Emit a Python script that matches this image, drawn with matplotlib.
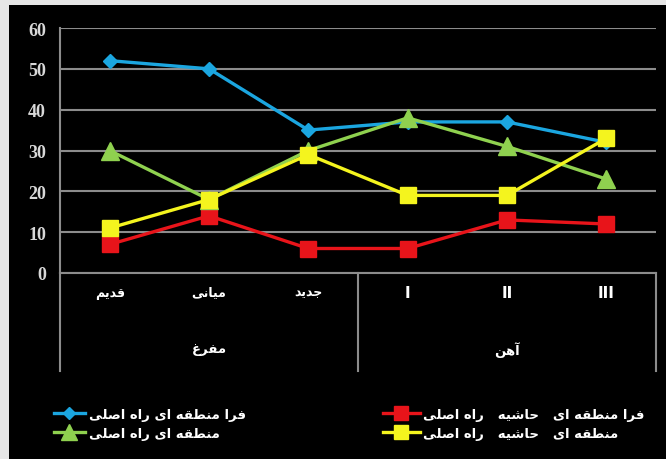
import matplotlib
matplotlib.use("Agg")
import matplotlib.pyplot as plt
import matplotlib.transforms as mtransforms
from matplotlib.patches import Rectangle

# data
categories = ["قدیم", "میانی", "جدید", "I", "II", "III"]
groups = ["مفرغ", "آهن"]
group_size = [3, 3]

series_names = [
    "فرا منطقه ای راه اصلی",
    "فرا منطقه ای   حاشیه   راه اصلی",
    "منطقه ای راه اصلی",
    "منطقه ای   حاشیه   راه اصلی",
]
blue_vals = [52, 50, 35, 37, 37, 32]
red_vals = [7, 14, 6, 6, 13, 12]
green_vals = [30, 18, 30, 38, 31, 23]
yellow_vals = [11, 18, 29, 19, 19, 33]

yticks = [0, 10, 20, 30, 40, 50, 60]

# matplotlib does no arabic shaping, so pick the presentation forms by hand
# letter: (isolated, final, initial, medial); initial None -> does not join forward
FORMS = {
    "ا": ("\uFE8D", "\uFE8E", None, None),
    "آ": ("\uFE81", "\uFE82", None, None),
    "د": ("\uFEA9", "\uFEAA", None, None),
    "ر": ("\uFEAD", "\uFEAE", None, None),
    "ج": ("\uFE9D", "\uFE9E", "\uFE9F", "\uFEA0"),
    "ح": ("\uFEA1", "\uFEA2", "\uFEA3", "\uFEA4"),
    "ش": ("\uFEB5", "\uFEB6", "\uFEB7", "\uFEB8"),
    "ص": ("\uFEB9", "\uFEBA", "\uFEBB", "\uFEBC"),
    "ط": ("\uFEC1", "\uFEC2", "\uFEC3", "\uFEC4"),
    "غ": ("\uFECD", "\uFECE", "\uFECF", "\uFED0"),
    "ف": ("\uFED1", "\uFED2", "\uFED3", "\uFED4"),
    "ق": ("\uFED5", "\uFED6", "\uFED7", "\uFED8"),
    "ل": ("\uFEDD", "\uFEDE", "\uFEDF", "\uFEE0"),
    "م": ("\uFEE1", "\uFEE2", "\uFEE3", "\uFEE4"),
    "ن": ("\uFEE5", "\uFEE6", "\uFEE7", "\uFEE8"),
    "ه": ("\uFEE9", "\uFEEA", "\uFEEB", "\uFEEC"),
    "ی": ("\uFBFC", "\uFBFD", "\uFBFE", "\uFBFF"),
}


def shape(s):
    if not any(c in FORMS for c in s):
        return s
    out = []
    for i, c in enumerate(s):
        if c not in FORMS:
            out.append(c)
            continue
        prev = s[i - 1] if i > 0 else None
        nxt = s[i + 1] if i + 1 < len(s) else None
        join_prev = prev in FORMS and FORMS[prev][2] is not None
        join_next = FORMS[c][2] is not None and nxt in FORMS
        iso, fin, ini, med = FORMS[c]
        if join_prev and join_next:
            out.append(med)
        elif join_prev:
            out.append(fin)
        elif join_next:
            out.append(ini)
        else:
            out.append(iso)
    return "".join(reversed(out))


plt.rcParams["font.family"] = ["Liberation Serif", "DejaVu Sans"]

fig = plt.figure(figsize=(6.66, 4.6), dpi=100, facecolor="black")
ax = fig.add_axes([60 / 666, 1 - 274 / 460, 596 / 666, 245 / 460])
ax.set_facecolor("black")

# light frame on the left and top of the picture
fig.patches.append(Rectangle((0, 0), 9 / 666, 1, transform=fig.transFigure,
                             facecolor="#e6e6e6", edgecolor="none", zorder=-5))
fig.patches.append(Rectangle((0, 1 - 6 / 460), 1, 6 / 460, transform=fig.transFigure,
                             facecolor="#e6e6e6", edgecolor="none", zorder=-5))

x = list(range(len(categories)))
grid_c = "#8c8c8c"

l_blue, = ax.plot(x, blue_vals, color="#1ba6e0", lw=2.4, marker="D", ms=7.5,
                  zorder=3)
l_red, = ax.plot(x, red_vals, color="#e8141a", lw=2.4, marker="s", ms=11.5,
                 zorder=3)
l_green, = ax.plot(x, green_vals, color="#8fd14f", lw=2.4, marker="^", ms=13,
                   zorder=3)
l_yellow, = ax.plot(x, yellow_vals, color="#f4f41e", lw=2.4, marker="s", ms=11.5,
                    zorder=3)

ax.set_xlim(-0.5, len(categories) - 0.5)
ax.set_ylim(0, 60)
ax.set_yticks(yticks)
ax.set_yticklabels([str(v) for v in yticks], fontsize=13, fontweight="bold",
                   color="#d8d8d8")
ax.tick_params(axis="y", length=0, pad=10)
ax.grid(axis="y", color=grid_c, lw=1.5)
ax.set_axisbelow(True)

ax.set_xticks(x)
ax.set_xticklabels([shape(c) for c in categories], color="white")
for i, t in enumerate(ax.get_xticklabels()):
    if i < group_size[0]:
        t.set_fontfamily("DejaVu Sans")
        t.set_fontsize(9)
        t.set_fontweight("bold")
    else:
        t.set_fontfamily("DejaVu Sans")
        t.set_fontsize(11)
        t.set_fontweight("bold")
ax.tick_params(axis="x", length=0, pad=9)

for side in ["right", "top"]:
    ax.spines[side].set_visible(False)
for side in ["left", "bottom"]:
    ax.spines[side].set_color(grid_c)
    ax.spines[side].set_linewidth(1.5)

# category group labels and separators under the axis
trans = mtransforms.blended_transform_factory(ax.transData, ax.transAxes)
drop = -(372 - 274) / 245
start = 0
edges = [-0.5]
for g, n in zip(groups, group_size):
    mid = start + (n - 1) / 2
    ax.text(mid, -(350 - 274) / 245, shape(g), transform=trans, ha="center",
            va="center", color="white", fontsize=9.5, fontweight="bold",
            family=["DejaVu Sans"])
    start += n
    edges.append(start - 0.5)
for e in edges:
    ax.plot([e, e], [0, drop], transform=trans, color=grid_c, lw=1.5,
            clip_on=False)

# legend: excel puts two entries per column
leg_prop = {"family": "DejaVu Sans", "weight": "bold", "size": 9.5}
leg1 = fig.legend([l_blue, l_green], [shape(series_names[0]), shape(series_names[2])],
                  loc="upper left", bbox_to_anchor=(47 / 666, 1 - 402 / 460),
                  frameon=False, labelcolor="white", markerscale=0.85,
                  handlelength=2.4, handletextpad=0.25, labelspacing=0.45,
                  borderpad=0, prop=leg_prop)
leg2 = fig.legend([l_red, l_yellow], [shape(series_names[1]), shape(series_names[3])],
                  loc="upper left", bbox_to_anchor=(376 / 666, 1 - 402 / 460),
                  frameon=False, labelcolor="white", markerscale=0.85,
                  handlelength=2.8, handletextpad=0.25, labelspacing=0.45,
                  borderpad=0, prop=leg_prop)

fig.savefig("out.png", dpi=100, facecolor=fig.get_facecolor())
